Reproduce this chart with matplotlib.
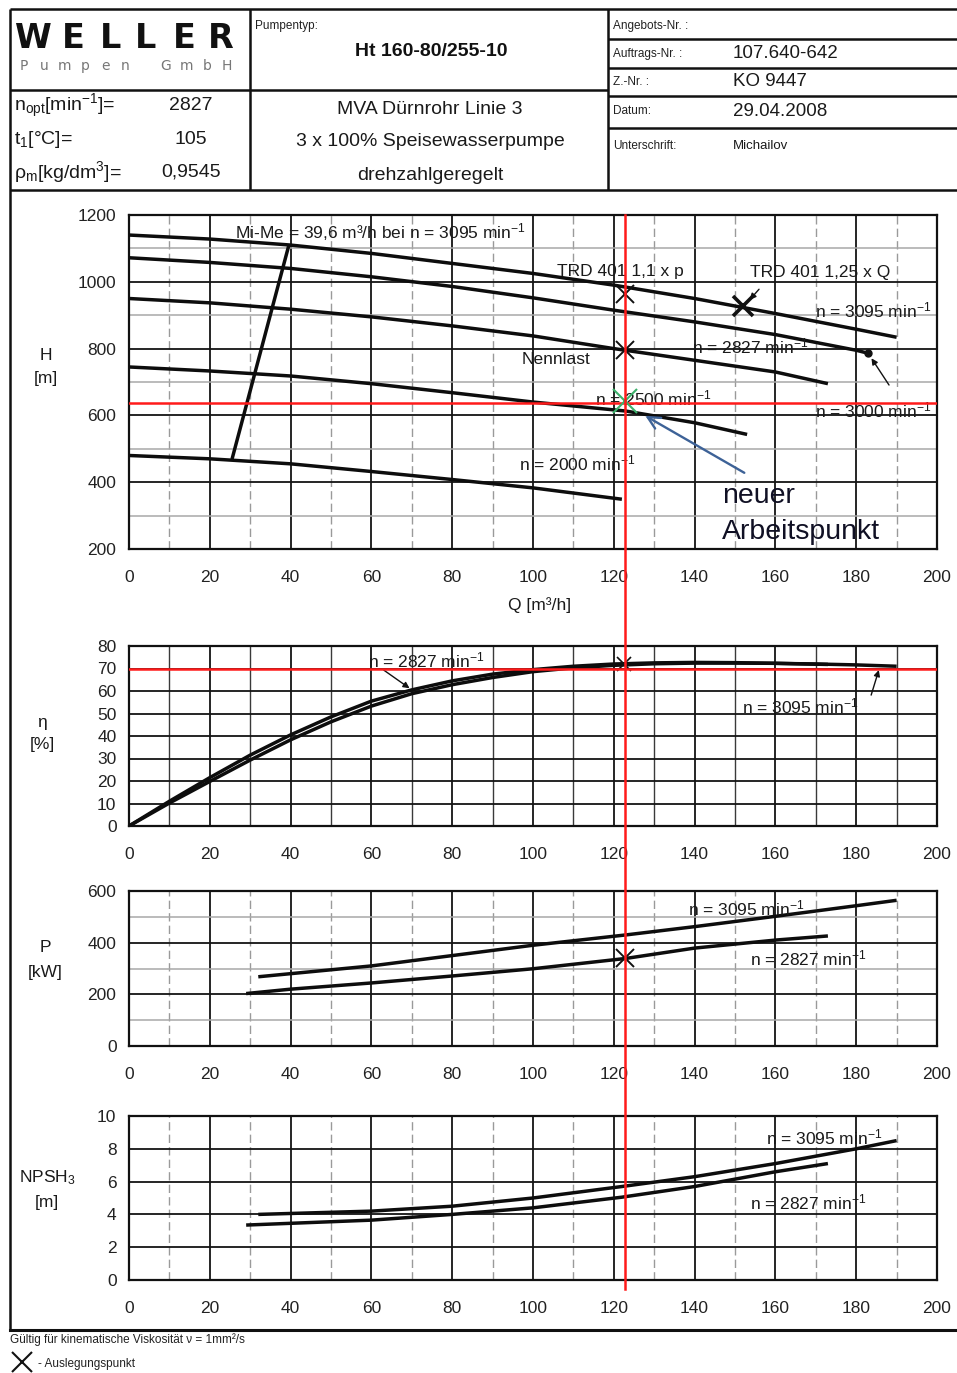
import matplotlib
matplotlib.use("Agg")
import matplotlib.pyplot as plt
from matplotlib.lines import Line2D
from matplotlib.transforms import blended_transform_factory
from matplotlib.ticker import MultipleLocator

plt.rcParams["font.family"] = ["Liberation Sans", "DejaVu Sans"]
plt.rcParams["mathtext.fontset"] = "custom"
plt.rcParams["mathtext.rm"] = "Liberation Sans"
plt.rcParams["mathtext.it"] = "Liberation Sans:italic"
plt.rcParams["mathtext.bf"] = "Liberation Sans:bold"

# ------------------------------------------------------------------ data
# Head curves H [m] over Q [m3/h] for the different speeds
head_q_3095 = [0, 20, 40, 60, 80, 100, 120, 140, 160, 180, 190]
head_3095 = [1140, 1128, 1110, 1085, 1055, 1025, 990, 950, 905, 858, 834]
head_q_3000 = [0, 20, 40, 60, 80, 100, 120, 140, 160, 180, 183]
head_3000 = [1072, 1058, 1040, 1015, 986, 952, 915, 880, 842, 795, 786]
head_q_2827 = [0, 20, 40, 60, 80, 100, 120, 140, 160, 173]
head_2827 = [950, 937, 918, 895, 868, 838, 800, 765, 730, 695]
head_q_2500 = [0, 20, 40, 60, 80, 100, 123, 140, 153]
head_2500 = [745, 733, 718, 695, 668, 640, 613, 578, 543]
head_q_2000 = [0, 20, 40, 60, 80, 100, 122]
head_2000 = [480, 470, 455, 432, 408, 383, 349]
# minimum flow line
minflow_q = [25.5, 39.6]
minflow_h = [469, 1111]

# design / check points on the head chart
trd_p_point = (122.8, 963)      # TRD 401 1,1 x p
trd_q_point = (152.0, 927)      # TRD 401 1,25 x Q
nominal_point = (122.8, 796)    # Nennlast
end_3000_point = (183.0, 786)
new_point = (122.8, 642)        # neuer Arbeitspunkt

q_operating = 122.8
h_operating = 636
eta_operating = 70

# Efficiency eta [%]
eta_q_2827 = [0, 10, 20, 30, 40, 50, 60, 70, 80, 90, 100, 110, 120, 130, 140, 150, 160, 173]
eta_2827 = [0, 11, 21.5, 31.5, 40.5, 48.5, 55.5, 60.5, 64.5, 67.5, 69.5, 71, 72, 72.5, 72.7, 72.6, 72.3, 71.8]
eta_q_3095 = [0, 10, 20, 30, 40, 50, 60, 70, 80, 90, 100, 110, 120, 130, 140, 150, 160, 170, 180, 190]
eta_3095 = [0, 10.2, 19.8, 29.3, 38.3, 46.3, 53.3, 58.8, 62.8, 66, 68.6, 70.3, 71.4, 72.1, 72.4, 72.4, 72.3, 72, 71.6, 71]
eta_design = (122.5, 72)

# Power P [kW]
p_q_3095 = [32, 40, 60, 80, 100, 123, 140, 160, 180, 190]
p_3095 = [268, 280, 310, 350, 390, 430, 462, 502, 543, 564]
p_q_2827 = [29, 40, 60, 80, 100, 123, 140, 160, 173]
p_2827 = [203, 220, 244, 271, 299, 339, 379, 410, 426]
p_design = (122.8, 339)

# NPSH3 [m]
npsh_q_3095 = [32, 60, 80, 100, 122, 140, 160, 180, 190]
npsh_3095 = [4.0, 4.2, 4.5, 5.0, 5.7, 6.3, 7.1, 8.0, 8.5]
npsh_q_2827 = [29, 60, 80, 100, 122, 140, 160, 173]
npsh_2827 = [3.35, 3.65, 4.0, 4.4, 5.05, 5.7, 6.6, 7.1]

q_ticks = [0, 20, 40, 60, 80, 100, 120, 140, 160, 180, 200]

# ------------------------------------------------------------------ figure
W, H = 957, 1373
fig = plt.figure(figsize=(W / 100, H / 100), dpi=100)

bg = fig.add_axes([0, 0, 1, 1], zorder=-1)
bg.set_xlim(0, W)
bg.set_ylim(H, 0)
bg.axis("off")

LEFT, RIGHT = 129, 937
MAJ = "#141414"
MIN = "#9a9a9a"


def make_axes(top, bottom, ylim, ymajor, yminor=None, dark_xminor=False):
    ax = fig.add_axes([LEFT / W, 1 - bottom / H, (RIGHT - LEFT) / W, (bottom - top) / H])
    ax.set_xlim(0, 200)
    ax.set_ylim(*ylim)
    ax.set_xticks(q_ticks)
    ax.xaxis.set_minor_locator(MultipleLocator(10))
    ax.yaxis.set_major_locator(MultipleLocator(ymajor))
    if yminor:
        ax.yaxis.set_minor_locator(MultipleLocator(yminor))
    ax.xaxis.grid(True, which="major", color=MAJ, lw=1.3)
    ax.yaxis.grid(True, which="major", color=MAJ, lw=1.3)
    if dark_xminor:
        ax.xaxis.grid(True, which="minor", color="#3a3a3a", lw=1.0)
    else:
        ax.xaxis.grid(True, which="minor", color=MIN, lw=1.0, ls=(0, (6, 3)))
    if yminor:
        ax.yaxis.grid(True, which="minor", color="#a8a8a8", lw=1.1)
    ax.set_axisbelow(True)
    ax.tick_params(which="both", length=0, labelsize=12.5, colors="#222")
    ax.tick_params(axis="x", pad=15)
    ax.tick_params(axis="y", pad=9)
    for s in ax.spines.values():
        s.set_color("#111")
        s.set_linewidth(1.6)
    return ax


CURVE = dict(color="#0d0d0d", lw=2.5, solid_capstyle="butt", zorder=3)
LBL = dict(fontsize=12.5, color="#1a1a1a", va="center", ha="left", zorder=4)
XMARK = dict(marker="x", color="#111", ms=13, mew=1.4, ls="none", zorder=5)
ARROW = dict(arrowstyle="-|>", color="#111", lw=1.0, mutation_scale=9)
mn = r"min$^{-1}$"

# ---------------- head chart
axH = make_axes(215, 549, (200, 1200), 200, 100)
for q, h in [(head_q_3095, head_3095), (head_q_3000, head_3000), (head_q_2827, head_2827),
             (head_q_2500, head_2500), (head_q_2000, head_2000), (minflow_q, minflow_h)]:
    axH.plot(q, h, **CURVE)
axH.axhline(h_operating, color="#ff1a1a", lw=1.8, zorder=6)
axH.plot(*trd_p_point, **XMARK)
axH.plot(*nominal_point, **XMARK)
axH.plot(*trd_q_point, marker="x", color="#111", ms=15, mew=2.6, ls="none", zorder=5)
axH.plot(*end_3000_point, marker="o", color="#111", ms=5, ls="none", zorder=5)
axH.plot(*new_point, marker="x", color="#3cb06a", ms=17, mew=1.5, ls="none", zorder=7)

axH.text(26.2, 1148, r"Mi-Me = 39,6 m³/h bei n = 3095 " + mn, **LBL)
axH.text(105.9, 1031, "TRD 401 1,1 x p", **LBL)
axH.text(153.7, 1028, "TRD 401 1,25 x Q", **LBL)
axH.text(169.8, 915, "n = 3095 " + mn, **LBL)
axH.text(139.4, 807, "n = 2827 " + mn, **LBL)
axH.text(97.3, 768, "Nennlast", **LBL)
axH.text(115.3, 651, "n = 2500 " + mn, **LBL)
axH.text(169.8, 615, "n = 3000 " + mn, **LBL)
axH.text(96.5, 457, "n = 2000 " + mn, **LBL)
axH.annotate("", xy=(153.2, 940), xytext=(156.4, 984), arrowprops=ARROW, zorder=5)
axH.annotate("", xy=(183.4, 778), xytext=(188.5, 684), arrowprops=ARROW, zorder=5)
axH.annotate("", xy=(127.2, 603), xytext=(152.9, 424),
             arrowprops=dict(arrowstyle="->", color="#3d6297", lw=1.7, mutation_scale=22), zorder=7)
axH.text(146.8, 358, "neuer", fontsize=20.5, color="#101024", va="center", ha="left", zorder=7)
axH.text(146.8, 250, "Arbeitspunkt", fontsize=20.5, color="#101024", va="center", ha="left", zorder=7)

# ---------------- efficiency chart
axE = make_axes(646, 826, (0, 80), 10, dark_xminor=True)
axE.plot(eta_q_2827, eta_2827, **CURVE)
axE.plot(eta_q_3095, eta_3095, **CURVE)
axE.axhline(eta_operating, color="#ff1a1a", lw=1.8, zorder=6)
axE.plot(*eta_design, marker="x", color="#111", ms=10, mew=1.2, ls="none", zorder=5)
axE.text(59.2, 73.6, "n = 2827 " + mn, **LBL)
axE.annotate("", xy=(70, 60.5), xytext=(62.5, 70), arrowprops=ARROW, zorder=5)
axE.text(151.7, 53, "n = 3095 " + mn, **LBL)
axE.annotate("", xy=(185.8, 70.5), xytext=(183.5, 57), arrowprops=ARROW, zorder=5)

# ---------------- power chart
axP = make_axes(891, 1046, (0, 600), 200, 100)
axP.plot(p_q_3095, p_3095, **CURVE)
axP.plot(p_q_2827, p_2827, **CURVE)
axP.plot(*p_design, **XMARK)
axP.text(138.4, 534, "n = 3095 " + mn, **LBL)
axP.text(153.7, 337, "n = 2827 " + mn, **LBL)

# ---------------- NPSH chart
axN = make_axes(1116, 1280, (0, 10), 2)
axN.plot(npsh_q_3095, npsh_3095, **CURVE)
axN.plot(npsh_q_2827, npsh_2827, **CURVE)
axN.text(157.7, 8.7, "n = 3095 " + mn, **LBL)
axN.text(153.7, 4.7, "n = 2827 " + mn, **LBL)

# operating flow marked through all four charts
vtrans = blended_transform_factory(axH.transData, fig.transFigure)
fig.add_artist(Line2D([q_operating, q_operating], [1 - 215 / H, 1 - 1289 / H],
                      transform=vtrans, color="#ff1a1a", lw=1.8, zorder=20))

# ---------------- axis titles
TT = dict(fontsize=12.5, color="#1a1a1a", ha="center", va="center")
bg.text(46, 356, "H", **TT)
bg.text(46, 379, "[m]", **TT)
bg.text(540, 605, "Q [m³/h]", **TT)
bg.text(42, 722, "η", **TT)
bg.text(42, 745, "[%]", **TT)
bg.text(45, 948, "P", **TT)
bg.text(45, 972, "[kW]", **TT)
bg.text(47, 1178, r"NPSH$_3$", **TT)
bg.text(47, 1202, "[m]", **TT)

# ---------------- frame and title block
FR = dict(color="#111", lw=1.8, solid_capstyle="butt")
bg.plot([10, 10], [9, 1330], **FR)
bg.plot([10, 957], [1330, 1330], color="#111", lw=2.2)
bg.plot([10, 957], [9, 9], **FR)
bg.plot([10, 957], [190, 190], **FR)
bg.plot([10, 608], [90, 90], **FR)
bg.plot([250, 250], [9, 190], **FR)
bg.plot([608, 608], [9, 190], **FR)
for yy in (39, 68, 96, 128):
    bg.plot([608, 957], [yy, yy], **FR)

# logo
for ch, cx in zip("WELLER", [33, 73, 111, 146, 184, 221]):
    bg.text(cx, 48, ch, fontsize=24, fontweight="bold", family="DejaVu Sans",
            ha="center", va="baseline", color="#111")
for i, ch in enumerate("Pumpen GmbH"):
    bg.text(24 + i * 20.3, 70, ch, fontsize=10, family="DejaVu Sans", ha="center",
            va="baseline", color="#777")

SM = dict(fontsize=8.5, color="#222", ha="left", va="center")
bg.text(255, 26, "Pumpentyp:", **SM)
bg.text(431, 51, "Ht 160-80/255-10", fontsize=14, fontweight="bold", ha="center", va="center", color="#111")

HV = dict(fontsize=14, color="#1a1a1a", va="center")
bg.text(14, 106, r"n$_{\mathrm{opt}}$[min$^{-1}$]=", ha="left", **HV)
bg.text(14, 140, r"t$_{\mathrm{1}}$[°C]=", ha="left", **HV)
bg.text(14, 172, r"ρ$_{\mathrm{m}}$[kg/dm$^{3}$]=", ha="left", **HV)
bg.text(191, 106, "2827", ha="center", **HV)
bg.text(191, 140, "105", ha="center", **HV)
bg.text(191, 172, "0,9545", ha="center", **HV)

bg.text(430, 109, "MVA Dürnrohr Linie 3", ha="center", **HV)
bg.text(430, 142, "3 x 100% Speisewasserpumpe", ha="center", **HV)
bg.text(430, 175, "drehzahlgeregelt", ha="center", **HV)

bg.text(613, 26, "Angebots-Nr. :", **SM)
bg.text(613, 54, "Auftrags-Nr. :", **SM)
bg.text(613, 82, "Z.-Nr. :", **SM)
bg.text(613, 111, "Datum:", **SM)
bg.text(613, 146, "Unterschrift:", **SM)
RV = dict(fontsize=13.5, color="#1a1a1a", ha="left", va="center")
bg.text(733, 54, "107.640-642", **RV)
bg.text(733, 82, "KO 9447", **RV)
bg.text(733, 111, "29.04.2008", **RV)
bg.text(733, 146, "Michailov", fontsize=9.5, color="#1a1a1a", ha="left", va="center")

# footer
bg.text(10, 1340, "Gültig für kinematische Viskosität ν = 1mm²/s", **SM)
bg.plot([22], [1362], marker="x", color="#111", ms=15, mew=1.5)
bg.text(38, 1364, "- Auslegungspunkt", **SM)

fig.savefig("out.png", dpi=100)
